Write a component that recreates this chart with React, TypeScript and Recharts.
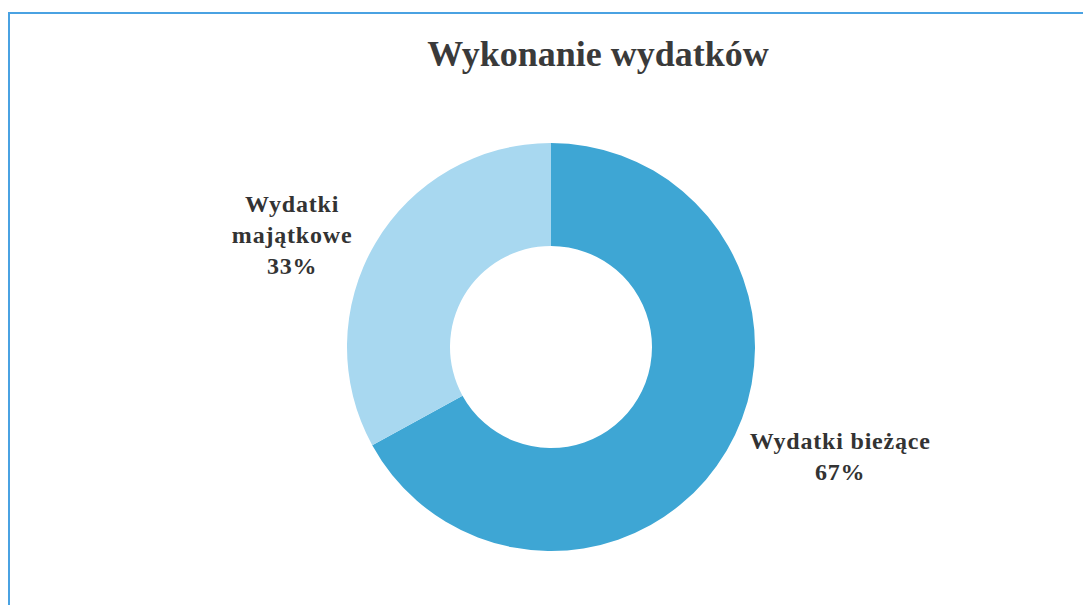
import React from "react";
import { PieChart, Pie, Cell } from "recharts";

const categories = ["Wydatki bieżące", "Wydatki majątkowe"];
const values = [67, 33];
const percentLabels = ["67%", "33%"];
const labelLines = [["Wydatki bieżące"], ["Wydatki", "majątkowe"]];
const colors = ["#3ea6d4", "#a8d8f0"];

const data = categories.map((name, i) => ({ name, value: values[i] }));

const FONT = "'Liberation Serif', 'DejaVu Serif', serif";
const LABEL_SIZE = 24;
const LABEL_SPACING = 0.8;
const LINE_H = 31;

function measure(text: string, size: number, weight: string): number {
  if (typeof document === "undefined") return text.length * size * 0.5;
  const c = document.createElement("canvas");
  const ctx = c.getContext("2d");
  if (!ctx) return text.length * size * 0.5;
  ctx.font = `${weight} ${size}px ${FONT}`;
  return ctx.measureText(text).width + text.length * LABEL_SPACING;
}

const RAD = Math.PI / 180;

const renderLabel = (props: any) => {
  const { cx, cy, midAngle, outerRadius, index } = props;
  const lines = [...labelLines[index], percentLabels[index]];
  const maxW = Math.max(...lines.map((l) => measure(l, LABEL_SIZE, "bold")));
  const cos = Math.cos(-midAngle * RAD);
  const sin = Math.sin(-midAngle * RAD);
  const r = outerRadius + 14;
  const sign = cos >= 0 ? 1 : -1;
  const x = cx + r * cos + sign * (maxW / 2 + 11);
  const y = cy + r * sin;
  const total = (lines.length - 1) * LINE_H;
  const startY = y - total / 2 + 7;
  return (
    <text
      x={x}
      y={startY}
      textAnchor="middle"
      fill="#333333"
      fontFamily={FONT}
      fontSize={LABEL_SIZE}
      fontWeight="bold"
      letterSpacing={LABEL_SPACING}
    >
      {lines.map((l, i) => (
        <tspan key={i} x={x} y={startY + i * LINE_H}>
          {l}
        </tspan>
      ))}
    </text>
  );
};

export default function App() {
  return (
    <div
      style={{
        position: "absolute",
        left: 0,
        top: 0,
        width: 1083,
        height: 605,
        overflow: "hidden",
        background: "#ffffff",
      }}
    >
      <div
        style={{
          position: "absolute",
          left: 8,
          top: 12,
          width: 1200,
          height: 700,
          border: "2px solid #4aa2e2",
          boxSizing: "border-box",
        }}
      />
      <div
        style={{
          position: "absolute",
          left: 0,
          width: 1196,
          top: 32,
          textAlign: "center",
          fontFamily: FONT,
          fontSize: 36,
          fontWeight: "bold",
          color: "#3a3a3a",
          lineHeight: "44px",
        }}
      >
        Wykonanie wydatków
      </div>
      <div style={{ position: "absolute", left: 0, top: 0 }}>
        <PieChart
          width={1083}
          height={605}
          margin={{ top: 0, right: 0, bottom: 0, left: 0 }}
        >
          <Pie
            data={data}
            dataKey="value"
            nameKey="name"
            cx={551}
            cy={347}
            innerRadius={101}
            outerRadius={204}
            startAngle={90}
            endAngle={-270}
            stroke="none"
            label={renderLabel}
            labelLine={false}
            isAnimationActive={false}
          >
            {data.map((d, i) => (
              <Cell key={d.name} fill={colors[i]} />
            ))}
          </Pie>
        </PieChart>
      </div>
    </div>
  );
}
